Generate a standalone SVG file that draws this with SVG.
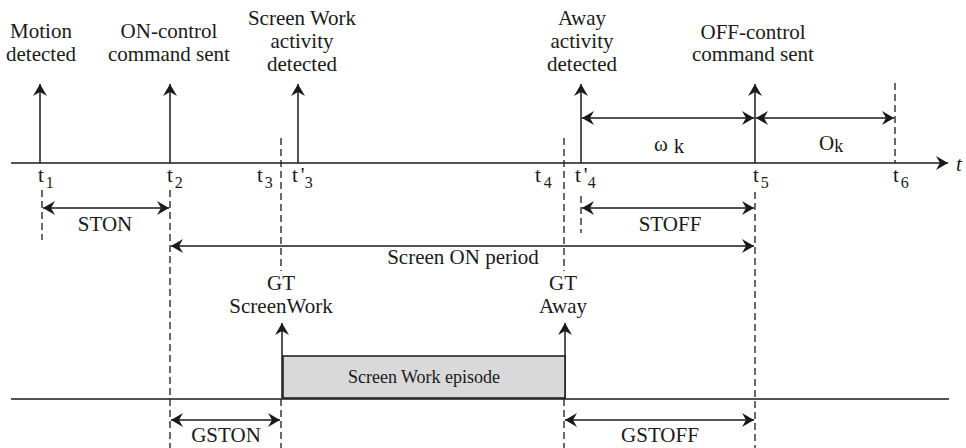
<svg xmlns="http://www.w3.org/2000/svg" width="966" height="448" viewBox="0 0 966 448">
<defs>
<marker id="ah" markerUnits="userSpaceOnUse" markerWidth="16" markerHeight="16" viewBox="-14 -8 16 16" refX="0" refY="0" orient="auto-start-reverse">
<path d="M0,0 L-12,-7 L-8,0 L-12,7 Z" fill="#1a1a1a"/>
</marker>
</defs>
<style>
text{font-family:"Liberation Serif","Times New Roman",serif;font-size:21px;fill:#1a1a1a}
.c{text-anchor:middle}
.sub{font-size:16px}
.ep{font-size:18px}
.ax{stroke:#1a1a1a;stroke-width:1.4;fill:none}
.ar{stroke:#1a1a1a;stroke-width:1.5;fill:none;marker-end:url(#ah)}
.da{stroke:#1a1a1a;stroke-width:1.5;fill:none;marker-start:url(#ah);marker-end:url(#ah)}
.dsh{stroke:#1a1a1a;stroke-width:1.3;fill:none;stroke-dasharray:7 4}
</style>

<g id="connectors">
<!-- axes -->
<line class="ax" x1="11" y1="163" x2="948" y2="163" style="marker-end:url(#ah)"/>
<line class="ax" x1="11" y1="399" x2="949" y2="399"/>
<!-- event arrows -->
<line class="ar" x1="40" y1="163" x2="40" y2="84"/>
<line class="ar" x1="170" y1="163" x2="170" y2="84"/>
<line class="ar" x1="298" y1="163" x2="298" y2="84"/>
<line class="ar" x1="581" y1="163" x2="581" y2="84"/>
<line class="ar" x1="755" y1="163" x2="755" y2="84"/>
<!-- dashed guides -->
<line class="dsh" x1="42" y1="190" x2="42" y2="240"/>
<line class="dsh" x1="170" y1="190" x2="170" y2="448"/>
<line class="dsh" x1="281" y1="138" x2="281" y2="271"/>
<line class="dsh" x1="281" y1="399" x2="281" y2="448"/>
<line class="dsh" x1="564" y1="138" x2="564" y2="271"/>
<line class="dsh" x1="564" y1="399" x2="564" y2="448"/>
<line class="dsh" x1="755" y1="192" x2="755" y2="448"/>
<line class="dsh" x1="895" y1="83" x2="895" y2="163"/>
<line class="dsh" x1="581" y1="196" x2="581" y2="233"/>
<!-- interval arrows -->
<line class="da" x1="582" y1="118" x2="754" y2="118"/>
<line class="da" x1="756" y1="118" x2="894" y2="118"/>
<line class="da" x1="43" y1="208" x2="169" y2="208"/>
<line class="da" x1="582" y1="208" x2="754" y2="208"/>
<line class="da" x1="171" y1="246" x2="754" y2="246"/>
<line class="da" x1="171" y1="420" x2="280" y2="420"/>
<line class="da" x1="565" y1="420" x2="754" y2="420"/>
<!-- GT arrows -->
<line class="ar" x1="282" y1="398" x2="282" y2="323"/>
<line class="ar" x1="565" y1="398" x2="565" y2="323"/>
</g>

<g id="episode">
<rect x="283" y="356" width="282" height="42" fill="#d9d9d9" stroke="#1a1a1a" stroke-width="1.5"/>
<text class="c ep" x="424" y="383">Screen Work episode</text>
</g>

<g id="label-motion">
<text class="c" x="41" y="38">Motion</text>
<text class="c" x="41" y="61">detected</text>
</g>
<g id="label-on">
<text class="c" x="169" y="38">ON-control</text>
<text class="c" x="169" y="61">command sent</text>
</g>
<g id="label-screenwork">
<text class="c" x="302" y="25">Screen Work</text>
<text class="c" x="302" y="48">activity</text>
<text class="c" x="302" y="71">detected</text>
</g>
<g id="label-away">
<text class="c" x="582" y="25">Away</text>
<text class="c" x="582" y="48">activity</text>
<text class="c" x="582" y="71">detected</text>
</g>
<g id="label-off">
<text class="c" x="753" y="39">OFF-control</text>
<text class="c" x="753" y="61">command sent</text>
</g>

<g id="ticks">
<text x="38" y="182">t<tspan class="sub" dx="2" dy="6">1</tspan></text>
<text x="167" y="182">t<tspan class="sub" dx="2" dy="6">2</tspan></text>
<text x="257" y="182">t<tspan class="sub" dx="2" dy="6">3</tspan></text>
<text x="292" y="182">t<tspan dx="3">'</tspan><tspan class="sub" dy="6">3</tspan></text>
<text x="535" y="182">t<tspan class="sub" dx="3" dy="6">4</tspan></text>
<text x="575" y="182">t<tspan dx="3">'</tspan><tspan class="sub" dy="6">4</tspan></text>
<text x="753" y="182">t<tspan class="sub" dx="2" dy="6">5</tspan></text>
<text x="893" y="182">t<tspan class="sub" dx="2" dy="6">6</tspan></text>
<text x="956" y="171" font-style="italic">t</text>
</g>

<g id="interval-labels">
<text x="654" y="151">ω<tspan dx="6" dy="2">k</tspan></text>
<text x="819" y="150">O<tspan dy="2" font-size="18">k</tspan></text>
<text class="c" x="105" y="231">STON</text>
<text class="c" x="670" y="231">STOFF</text>
<text class="c" x="463" y="264">Screen ON period</text>
<text class="c" x="226" y="442">GSTON</text>
<text class="c" x="660" y="442">GSTOFF</text>
</g>

<g id="gt-labels">
<text class="c" x="281" y="290">GT</text>
<text class="c" x="281" y="313">ScreenWork</text>
<text class="c" x="563" y="290">GT</text>
<text class="c" x="563" y="313">Away</text>
</g>
</svg>
